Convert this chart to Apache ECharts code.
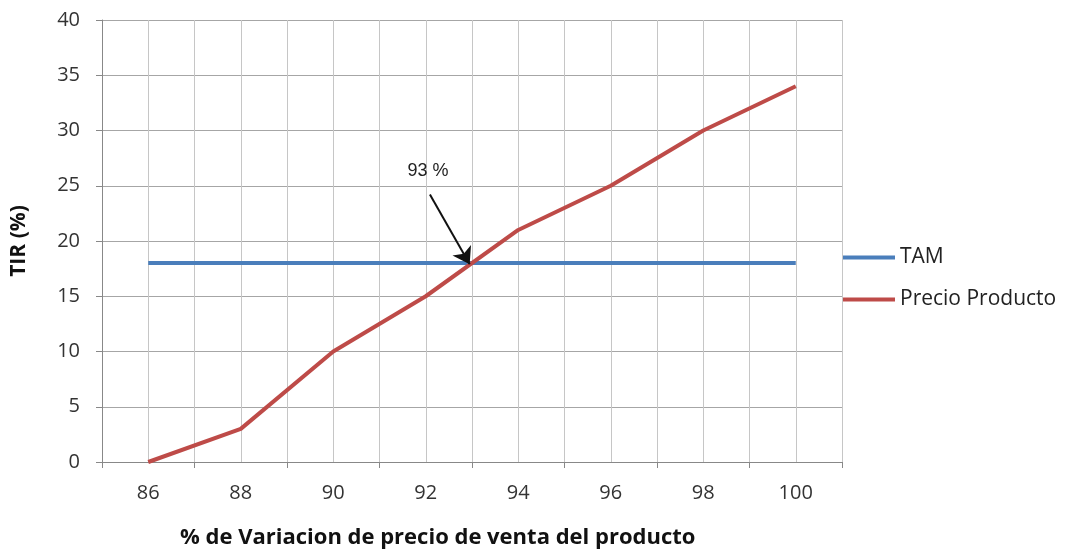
<!DOCTYPE html>
<html>
<head>
<meta charset="utf-8">
<script src="https://cdn.jsdelivr.net/npm/echarts@6/dist/echarts.min.js"></script>
<style>html,body{margin:0;padding:0;background:#fff}#c{width:1065px;height:556px}</style>
</head>
<body>
<div id="c"></div>
<script>
const xValues = [86, 88, 90, 92, 94, 96, 98, 100];
const tamValues = [18, 18, 18, 18, 18, 18, 18, 18];
const precioValues = [0, 3, 10, 15, 21, 25, 30, 34];
const seriesNames = ['TAM', 'Precio Producto'];
const xTitle = '% de Variacion de precio de venta del producto';
const yTitle = 'TIR (%)';
const annotationText = '93 %';
const arrowStart = [92.09, 24.2];
const arrowEnd = [92.95, 17.9];
const annotationPos = [92.05, 26.3];

const chart = echarts.init(document.getElementById('c'));
const font = '"Open Sans", Lato, sans-serif';
chart.setOption({
  animation: false,
  backgroundColor: '#fff',
  grid: { left: 102, top: 20, width: 740, height: 442 },
  legend: {
    orient: 'vertical', left: 838, top: 242,
    icon: 'rect', itemWidth: 52, itemHeight: 4, itemGap: 21,
    textStyle: { fontFamily: font, fontSize: 21, color: '#222' },
    data: seriesNames
  },
  xAxis: [
    {
      type: 'value', min: 85, max: 101, interval: 1,
      axisLine: { show: true, lineStyle: { color: '#888', width: 1 } },
      axisTick: { show: false },
      splitLine: { show: true, lineStyle: { color: '#c6c6c6', width: 1 } },
      axisLabel: {
        margin: 21, fontFamily: font, fontSize: 20, color: '#333',
        formatter: v => (v % 2 === 0 ? String(v) : '')
      }
    },
    {
      type: 'value', min: 85, max: 101, interval: 2, position: 'bottom',
      axisLine: { show: false },
      axisTick: { show: true, length: 6, lineStyle: { color: '#888' } },
      splitLine: { show: false },
      axisLabel: { show: false }
    }
  ],
  yAxis: {
    type: 'value', min: 0, max: 40, interval: 5,
    name: yTitle, nameLocation: 'middle', nameGap: 72,
    nameTextStyle: { fontFamily: font, fontSize: 21, fontWeight: 'bold', color: '#111' },
    axisLine: { show: true, lineStyle: { color: '#888', width: 1 } },
    axisTick: { show: true, length: 6, lineStyle: { color: '#888' } },
    splitLine: { show: true, lineStyle: { color: '#a6a6a6', width: 1 } },
    axisLabel: { margin: 22, fontFamily: font, fontSize: 20, color: '#333' }
  },
  graphic: [{
    type: 'text', left: 180, top: 527,
    style: { text: xTitle, font: 'bold 22px ' + font, fill: '#111' }
  }],
  series: [
    {
      name: seriesNames[0], type: 'line', xAxisIndex: 0,
      data: xValues.map((x, i) => [x, tamValues[i]]),
      showSymbol: false, symbol: 'none',
      lineStyle: { color: '#4a7ebb', width: 4 }, itemStyle: { color: '#4a7ebb' }
    },
    {
      name: seriesNames[1], type: 'line', xAxisIndex: 0,
      data: xValues.map((x, i) => [x, precioValues[i]]),
      showSymbol: false, symbol: 'none',
      lineStyle: { color: '#be4b48', width: 4 }, itemStyle: { color: '#be4b48' },
      markLine: {
        silent: true, symbol: ['none', 'arrow'], symbolSize: 16,
        lineStyle: { color: '#111', width: 2, type: 'solid' },
        label: { show: false },
        z: 10,
        data: [[{ coord: arrowStart }, { coord: arrowEnd }]]
      },
      markPoint: {
        silent: true, symbol: 'circle', symbolSize: 0,
        label: { show: true, formatter: annotationText, fontFamily: 'Liberation Sans, Arial, sans-serif', fontSize: 18, color: '#222' },
        data: [{ coord: annotationPos }]
      }
    }
  ]
});
</script>
</body>
</html>
